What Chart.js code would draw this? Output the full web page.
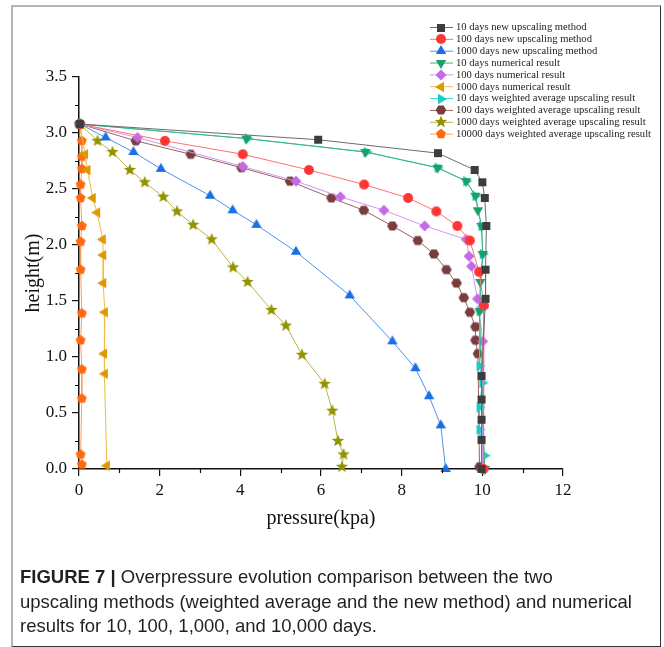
<!DOCTYPE html>
<html>
<head>
<meta charset="utf-8">
<script src="https://cdn.jsdelivr.net/npm/chart.js@4.4.0/dist/chart.umd.min.js"></script>
<style>
  body { margin: 0; background: #fff; width: 664px; height: 647px; overflow: hidden; position: relative; }
  #wrap { position: absolute; left: 0; top: 0; width: 664px; height: 647px; }
  #frame { position: absolute; left: 11px; top: 5px; width: 650px; height: 642px; box-sizing: border-box;
           border-left: 2px solid #b5b5b5; border-top: 2px solid #b5b5b5;
           border-right: 1px solid #333; border-bottom: 1px solid #333; pointer-events: none; }
  #caption { position: absolute; left: 20px; top: 565px; width: 640px; color: #231f20; white-space: nowrap;
             font: 18.5px/24.5px "Liberation Sans", Arial, sans-serif; }
</style>
</head>
<body>
<div id="wrap"><canvas id="chart" width="664" height="647"></canvas></div>
<div id="frame"></div>
<div id="caption"><b>FIGURE 7 |</b> Overpressure evolution comparison between the two<br>upscaling methods (weighted average and the new method) and numerical<br>results for 10, 100, 1,000, and 10,000 days.</div>
<script>
// pressure (kpa) / height (m)
const p10New = [0.02, 5.93, 8.90, 9.81, 10.0, 10.06, 10.10, 10.08, 10.08, 9.98, 9.98, 9.98, 9.98, 9.98];
const h10New = [3.08, 2.94, 2.82, 2.67, 2.56, 2.42, 2.17, 1.78, 1.52, 0.83, 0.62, 0.44, 0.26, 0.0];

const p100New = [0.02, 2.13, 4.06, 5.70, 7.07, 8.16, 8.86, 9.38, 9.69, 9.92, 10.04, 10.03];
const h100New = [3.08, 2.93, 2.81, 2.67, 2.54, 2.42, 2.30, 2.17, 2.04, 1.76, 1.46, 0.0];

const p1000New = [0.02, 0.66, 1.35, 2.03, 3.25, 3.81, 4.40, 5.38, 6.71, 7.77, 8.34, 8.68, 8.97, 9.09];
const h1000New = [3.08, 2.96, 2.83, 2.68, 2.44, 2.31, 2.18, 1.94, 1.55, 1.14, 0.90, 0.65, 0.39, 0.0];

const p10Num = [0.02, 4.15, 7.10, 8.89, 9.60, 9.83, 9.89, 9.98, 10.01, 9.95, 9.93, 10.06];
const h10Num = [3.08, 2.95, 2.83, 2.69, 2.57, 2.44, 2.31, 2.17, 1.92, 1.67, 1.41, 0.0];

const p100Num = [0.02, 1.45, 4.06, 5.38, 6.48, 7.56, 8.57, 9.60, 9.67, 9.73, 9.88, 10.01, 10.0];
const h100Num = [3.08, 2.96, 2.70, 2.57, 2.43, 2.31, 2.17, 2.05, 1.90, 1.81, 1.52, 1.14, 0.0];

const p1000Num = [0.02, 0.15, 0.21, 0.34, 0.45, 0.59, 0.60, 0.60, 0.64, 0.62, 0.64, 0.69];
const h1000Num = [3.08, 2.81, 2.67, 2.42, 2.29, 2.05, 1.91, 1.66, 1.40, 1.03, 0.85, 0.03];

const p10Wavg = [0.02, 4.18, 7.13, 8.89, 9.60, 9.83, 9.98, 10.01, 9.93, 9.93, 10.0, 9.93, 9.93, 10.06];
const h10Wavg = [3.08, 2.95, 2.83, 2.69, 2.57, 2.44, 2.17, 1.92, 1.41, 0.92, 0.77, 0.55, 0.35, 0.12];

const p100Wavg = [0.02, 1.41, 2.77, 4.03, 5.23, 6.26, 7.06, 7.77, 8.40, 8.80, 9.11, 9.36, 9.54, 9.69, 9.83, 9.83, 9.89, 9.93];
const h100Wavg = [3.08, 2.93, 2.81, 2.69, 2.57, 2.42, 2.31, 2.17, 2.04, 1.92, 1.78, 1.66, 1.53, 1.40, 1.27, 1.15, 1.03, 0.02];

const p1000Wavg = [0.02, 0.46, 0.83, 1.26, 1.63, 2.09, 2.43, 2.83, 3.29, 3.82, 4.18, 4.77, 5.13, 5.53, 6.09, 6.28, 6.42, 6.56, 6.52];
const h1000Wavg = [3.08, 2.93, 2.83, 2.67, 2.56, 2.43, 2.30, 2.18, 2.05, 1.80, 1.67, 1.42, 1.28, 1.02, 0.76, 0.52, 0.25, 0.13, 0.02];

const p10000Wavg = [0.02, 0.07, 0.07, 0.07, 0.04, 0.04, 0.07, 0.04, 0.04, 0.07, 0.04, 0.07, 0.07, 0.04, 0.07];
const h10000Wavg = [3.08, 2.93, 2.79, 2.68, 2.54, 2.42, 2.17, 2.03, 1.78, 1.39, 1.15, 0.89, 0.63, 0.13, 0.04];

const xTicks = [0, 2, 4, 6, 8, 10, 12];
const yTicks = [0, 0.5, 1, 1.5, 2, 2.5, 3, 3.5];

// small canvases used as point styles (Origin-like filled symbols)
function marker(shape, color) {
    const c = document.createElement('canvas');
    c.width = c.height = 16;
    const g = c.getContext('2d');
    g.translate(8, 8);
    g.fillStyle = color;
    g.beginPath();
    const poly = (n, r, start, inner) => {
        const k = inner ? n * 2 : n;
        for (let i = 0; i < k; i++) {
            const a = start + i * Math.PI * 2 / k;
            const rr = inner && i % 2 ? inner : r;
            const px = rr * Math.cos(a), py = rr * Math.sin(a);
            i ? g.lineTo(px, py) : g.moveTo(px, py);
        }
        g.closePath();
    };
    const D = Math.PI / 180;
    if (shape === 'square') g.rect(-4, -4, 8, 8);
    else if (shape === 'circle') g.arc(0, 0, 5, 0, Math.PI * 2);
    else if (shape === 'up') poly(3, 6, -90 * D);
    else if (shape === 'down') poly(3, 6, 90 * D);
    else if (shape === 'left') poly(3, 6, 180 * D);
    else if (shape === 'right') poly(3, 6, 0);
    else if (shape === 'diamond') poly(4, 5.5, -90 * D);
    else if (shape === 'hexagon') poly(6, 5.3, 0);
    else if (shape === 'pentagon') poly(5, 5.2, -90 * D);
    else if (shape === 'star') poly(5, 6.5, -90 * D, 2.8);
    g.fill();
    return c;
}

const series = [
    ['10 days new upscaling method', p10New, h10New, 'square', '#3d3d3d', '#6b6b6b'],
    ['100 days new upscaling method', p100New, h100New, 'circle', '#ff3535', '#ff7272'],
    ['1000 days new upscaling method', p1000New, h1000New, 'up', '#1a6ee6', '#4d93ee'],
    ['10 days numerical result', p10Num, h10Num, 'down', '#1aa067', '#3cb37f'],
    ['100 days numerical result', p100Num, h100Num, 'diamond', '#c46ae6', '#d495ee'],
    ['1000 days numerical result', p1000Num, h1000Num, 'left', '#dc9a00', '#f1bb45'],
    ['10 days weighted average upscaling result', p10Wavg, h10Wavg, 'right', '#19cccc', '#35d2d2'],
    ['100 days weighted average upscaling result', p100Wavg, h100Wavg, 'hexagon', '#7a3d3d', '#9c6262'],
    ['1000 days weighted average upscaling result', p1000Wavg, h1000Wavg, 'star', '#939300', '#b6b646'],
    ['10000 days weighted average upscaling result', p10000Wavg, h10000Wavg, 'pentagon', '#ff6a10', '#ff9d5e']
];

const datasets = series.map(([label, px, hy, shape, mc, lc]) => ({
    label: label,
    data: px.map((v, i) => ({ x: v, y: hy[i] })),
    showLine: true,
    borderColor: lc,
    borderWidth: 1,
    pointStyle: marker(shape, mc),
    pointRadius: 5,
    clip: false
}));

const serif = 'Liberation Serif, Times New Roman, serif';

// minor ticks + legend drawn on top
const extras = {
    id: 'extras',
    afterDraw(chart) {
        const ctx = chart.ctx;
        const xs = chart.scales.x, ys = chart.scales.y;
        const area = chart.chartArea;
        ctx.save();
        ctx.strokeStyle = '#111';
        ctx.lineWidth = 1.2;
        ctx.beginPath();
        for (let v = 1; v < 12; v += 2) {
            const px = Math.round(xs.getPixelForValue(v)) + 0.5;
            ctx.moveTo(px, area.bottom);
            ctx.lineTo(px, area.bottom + 4);
        }
        for (let v = 0.25; v < 3.5; v += 0.5) {
            const py = Math.round(ys.getPixelForValue(v)) + 0.5;
            ctx.moveTo(area.left, py);
            ctx.lineTo(area.left - 4, py);
        }
        ctx.stroke();

        ctx.font = '10.6px ' + serif;
        ctx.textBaseline = 'middle';
        ctx.fillStyle = '#222';
        chart.data.datasets.forEach((ds, i) => {
            const y = 27.5 + i * 11.85;
            ctx.strokeStyle = ds.borderColor;
            ctx.lineWidth = 1;
            ctx.beginPath();
            ctx.moveTo(430, y);
            ctx.lineTo(453, y);
            ctx.stroke();
            ctx.drawImage(ds.pointStyle, 441 - 8, Math.round(y) - 8);
            ctx.fillText(ds.label, 456, y);
        });
        ctx.restore();
    }
};

new Chart(document.getElementById('chart'), {
    type: 'scatter',
    data: { datasets: datasets },
    options: {
        responsive: false,
        animation: false,
        layout: { padding: { left: 0, top: 77, right: 101, bottom: 100 } },
        plugins: { legend: { display: false }, tooltip: { enabled: false } },
        scales: {
            x: {
                type: 'linear',
                min: 0, max: 12,
                afterFit: s => { s.height = 78; },
                afterBuildTicks: s => { s.ticks = xTicks.map(v => ({ value: v })); },
                grid: { drawOnChartArea: false, tickLength: 7, color: '#111', lineWidth: 1.2 },
                border: { color: '#111', width: 1.5 },
                ticks: { padding: 4, color: '#111', font: { family: serif, size: 17 }, callback: v => v },
                title: { display: true, text: 'pressure(kpa)', color: '#111',
                         font: { family: serif, size: 20 }, padding: { top: 0, bottom: 16 } }
            },
            y: {
                min: 0, max: 3.5,
                afterFit: s => { s.width = 79; },
                afterBuildTicks: s => { s.ticks = yTicks.map(v => ({ value: v })); },
                grid: { drawOnChartArea: false, tickLength: 7, color: '#111', lineWidth: 1.2 },
                border: { color: '#111', width: 1.5 },
                ticks: { padding: 5, color: '#111', font: { family: serif, size: 17 }, callback: v => v.toFixed(1) },
                title: { display: true, text: 'height(m)', color: '#111',
                         font: { family: serif, size: 20 }, padding: { top: 22, bottom: 0 } }
            }
        }
    },
    plugins: [extras]
});
</script>
</body>
</html>
